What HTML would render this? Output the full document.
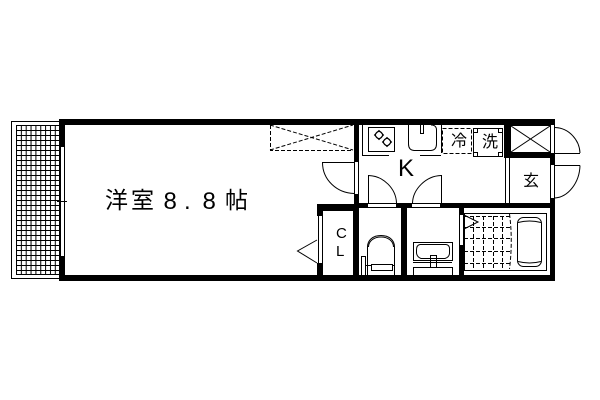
<!DOCTYPE html>
<html><head><meta charset="utf-8"><style>
html,body{margin:0;padding:0;background:#fff}
svg{display:block}
text{font-family:"Liberation Sans","Noto Sans CJK JP",sans-serif;fill:#000}
</style></head><body>
<svg width="600" height="400" viewBox="0 0 600 400" xmlns="http://www.w3.org/2000/svg">
<rect width="600" height="400" fill="#fff"/>
<defs>
<pattern id="g" x="16" y="125" width="4.85" height="5" patternUnits="userSpaceOnUse">
<path d="M.5 0V5M0 .5H5" stroke="#000" stroke-width="1" fill="none"/>
</pattern>
</defs>
<!-- balcony -->
<rect x="11.5" y="121.5" width="48" height="157" fill="#fff" stroke="#000"/>
<rect x="16" y="125" width="43" height="149" fill="url(#g)"/>
<rect x="16.5" y="125.5" width="43" height="149" fill="none" stroke="#000"/>
<!-- walls -->
<g fill="#000" shape-rendering="crispEdges">
<rect x="59" y="119" width="496" height="6"/>
<rect x="59" y="275" width="496" height="6"/>
<rect x="59" y="119" width="6" height="28"/>
<rect x="59" y="256" width="6" height="25"/>
<rect x="354" y="119" width="5" height="43"/>
<rect x="354" y="194" width="5" height="16"/>
<rect x="317" y="204" width="42" height="7"/>
<rect x="317" y="204" width="6" height="12"/>
<rect x="317" y="263" width="6" height="18"/>
<rect x="353" y="204" width="6" height="77"/>
<rect x="359" y="203" width="9" height="5"/>
<rect x="396" y="203" width="16" height="5"/>
<rect x="401" y="203" width="6" height="78"/>
<rect x="440" y="203" width="115" height="5"/>
<rect x="459" y="203" width="5" height="12"/>
<rect x="459" y="245" width="5" height="36"/>
<rect x="504" y="119" width="6" height="39"/>
<rect x="504" y="153" width="51" height="5"/>
<rect x="550" y="153" width="5" height="12"/>
<rect x="550" y="198" width="5" height="83"/>
<rect x="550" y="119" width="5" height="6"/>
</g>
<g fill="none" stroke="#000" stroke-width="1" shape-rendering="crispEdges">
<!-- windows / openings -->
<path d="M60.5 147V256M64.5 147V256"/>
<path d="M57 201.5H67"/>
<path d="M354.5 162V194M358.5 162V194"/>
<path d="M318.5 216V263M322.5 216V263"/>
<path d="M459.5 215V245M463.5 215V245"/>
<path d="M368 203.5H396M368 207.5H396M412 203.5H440M412 207.5H440"/>
<path d="M505.5 158V203M509.5 158V203"/>
<path d="M550.5 125V153M554.5 125V153M550.5 165V198M554.5 165V198"/>
<path d="M555 165.5H580M555 153.5H580"/>
<path d="M322 162.5H354M368.5 175V203M441.5 175V203"/>
<!-- kitchen -->
<path d="M362.5 125V155.5H389"/>
<rect x="368.5" y="127.5" width="26" height="24"/>
<path d="M441.5 125V153"/>
<path d="M420 155.5H441"/>
<path d="M420.5 125V133.5H423.5V125"/>
<!-- washer -->
<rect x="473.5" y="128.5" width="29" height="28"/>
<rect x="473.5" y="128.5" width="4" height="4"/>
<rect x="498.5" y="128.5" width="4" height="4"/>
<rect x="473.5" y="152.5" width="4" height="4"/>
<rect x="498.5" y="152.5" width="4" height="4"/>
<!-- storage box -->
<rect x="510.5" y="125.5" width="40" height="27"/>
<!-- toilet -->
<rect x="361.5" y="256.5" width="4" height="19"/>
<rect x="371.5" y="264.5" width="21" height="6"/>
<path d="M365 265.5H371M392 265.5H394"/>
<path d="M367.5 247V275M394.5 247V275"/>
<!-- basin -->
<rect x="413.5" y="267.5" width="39" height="8"/>
<path d="M413 262.5H452"/>
<rect x="430.5" y="255.5" width="6" height="12"/>
<rect x="413.5" y="242.5" width="39" height="18"/>
<!-- bath -->
<rect x="464.5" y="213.5" width="82" height="57"/>
</g>
<g fill="none" stroke="#000" stroke-width="1">
<!-- door arcs -->
<path d="M322.5 162.5C322.5 180 337 193 354 193.5"/>
<path d="M368.5 175.5C384 176 396 189 396.5 203"/>
<path d="M441 175.5C426 176 413 189 412.5 203"/>
<path d="M555 127.5C569 128 579.5 140 580 153"/>
<path d="M580 165.5C579.5 183 568 197 555 198"/>
<!-- storage X -->
<path d="M511 126L550 152M550 126L511 152"/>
<!-- CL triangle -->
<path d="M317 240L297.5 251L317 263"/>
<!-- door triangle bath -->
<path d="M464 215L478 222L464 229"/>
<!-- stove rings -->
<path d="M379 130.5L383.5 135L379 139.5L374.5 135ZM387 137.5L391.5 142L387 146.5L382.5 142Z"/>
<circle cx="379" cy="135" r="3.5"/>
<circle cx="387" cy="142" r="3.5"/>
<!-- sink -->
<path d="M408.5 125V144Q408.5 150 414 150.5H431Q436.5 150 436.5 144V130Q436.5 125 431 125"/>
<!-- toilet bowl -->
<path d="M367.5 247C367.5 240 373 235.5 381 235.5C389 235.5 394.5 240 394.5 247"/>
<path d="M368.5 247C368.5 241 374 237 381 237C388 237 393.5 241 393.5 247"/>
<!-- basin bowl -->
<path d="M420 244.5H446Q450 245 449.5 250V253Q449.5 257 445 258.5H421Q417 257 416.5 253V250Q416.5 245 420 244.5Z"/>
<!-- tub -->
<rect x="517.5" y="217.5" width="24" height="49" rx="6"/>
<path d="M518 222.5Q529.5 219.5 541 222.5M518 261.5Q529.5 264.5 541 261.5"/>
</g>
<!-- dashed -->
<g fill="none" stroke="#000" stroke-width="1" stroke-dasharray="4 2">
<path d="M270.5 125V150.5H353M270 150L353 125M270 125L353 150"/>
<rect x="442.5" y="128.5" width="29" height="25"/>
<path d="M464 216.5H510M464 227.5H510M464 238.5H510M464 251.5H510M464 263.5H510"/>
<path d="M473.5 216V270M483.5 216V270M493.5 216V270M502.5 216V270"/>
<path d="M509.5 214Q513 240 509.5 269"/>
</g>
<!-- labels -->
<text x="105" y="208" font-size="23">洋</text>
<text x="131" y="208" font-size="23">室</text>
<text x="163.500" y="209" font-size="24">8</text>
<text x="184" y="209" font-size="24">.</text>
<text x="202.500" y="209" font-size="24">8</text>
<text x="225" y="208" font-size="23">帖</text>
<text x="398" y="176" font-size="24">K</text>
<text x="336" y="238" font-size="15">C</text>
<text x="336" y="256" font-size="15">L</text>
<text x="451" y="146" font-size="16">冷</text>
<text x="482" y="147" font-size="16">洗</text>
<text x="523" y="186" font-size="16">玄</text>
</svg>
</body></html>
